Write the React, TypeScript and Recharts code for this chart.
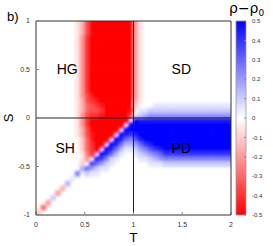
import React from 'react';
import { ComposedChart, Scatter, XAxis, YAxis, ReferenceLine, ReferenceArea } from 'recharts';

const W = 273;
const H = 246;
const PLOT = { left: 36, top: 21, right: 231, bottom: 215 };
const CB = { left: 236, right: 246 };
const FONT = "'Liberation Sans', Arial, sans-serif";

// column centres (T) and row centres (S) of the map
const tCenters = [0.025,0.075,0.125,0.175,0.225,0.275,0.325,0.375,0.425,0.475,0.525,0.575,0.625,0.675,0.725,0.775,0.825,0.875,0.925,0.975,1.025,1.075,1.125,1.175,1.225,1.275,1.325,1.375,1.425,1.475,1.525,1.575,1.625,1.675,1.725,1.775,1.825,1.875,1.925,1.975];
const sCenters = [0.975,0.925,0.875,0.825,0.775,0.725,0.675,0.625,0.575,0.525,0.475,0.425,0.375,0.325,0.275,0.225,0.175,0.125,0.075,0.025,-0.025,-0.075,-0.125,-0.175,-0.225,-0.275,-0.325,-0.375,-0.425,-0.475,-0.525,-0.575,-0.625,-0.675,-0.725,-0.775,-0.825,-0.875,-0.925,-0.975];

const xTicks = [0, 0.5, 1, 1.5, 2];
const yTicks = [-1, -0.5, 0, 0.5, 1];
const cbTicks = [-0.5, -0.4, -0.3, -0.2, -0.1, 0, 0.1, 0.2, 0.3, 0.4, 0.5];

const regionLabels = [
  { name: 'HG', t: 0.32, s: 0.51 },
  { name: 'SD', t: 1.49, s: 0.51 },
  { name: 'SH', t: 0.3, s: -0.31 },
  { name: 'PD', t: 1.49, s: -0.31 },
];

// rho - rho0 in units of 0.1, rows from S = 1 (top) to S = -1 (bottom)
const rhoTenths: number[][] = [
  [0,0,0,0,0,0,0,0,-0.5,-1.5, -3.5,-5,-5,-5,-5,-5,-5,-5,-5,-5, -2,-0.5,0,0,0,0,0,0,0,0, 0,0,0,0,0,0,0,0,0,0],
  [0,0,0,0,0,0,0,0,-0.5,-1.5, -3.5,-5,-5,-5,-5,-5,-5,-5,-5,-5, -2,-0.5,0,0,0,0,0,0,0,0, 0,0,0,0,0,0,0,0,0,0],
  [0,0,0,0,0,0,0,0,-0.5,-1.5, -3.5,-5,-5,-5,-5,-5,-5,-5,-5,-5, -2,-0.5,0,0,0,0,0,0,0,0, 0,0,0,0,0,0,0,0,0,0],
  [0,0,0,0,0,0,0,0,-0.5,-2, -4,-5,-5,-5,-5,-5,-5,-5,-5,-5, -2,-0.5,0,0,0,0,0,0,0,0, 0,0,0,0,0,0,0,0,0,0],
  [0,0,0,0,0,0,0,0,-0.5,-2, -4,-5,-5,-5,-5,-5,-5,-5,-5,-5, -2,-0.5,0,0,0,0,0,0,0,0, 0,0,0,0,0,0,0,0,0,0],
  [0,0,0,0,0,0,0,0,-0.5,-2, -4,-5,-5,-5,-5,-5,-5,-5,-5,-5, -2,-0.5,0,0,0,0,0,0,0,0, 0,0,0,0,0,0,0,0,0,0],
  [0,0,0,0,0,0,0,0,-0.5,-2, -4,-5,-5,-5,-5,-5,-5,-5,-5,-5, -2,-0.5,0,0,0,0,0,0,0,0, 0,0,0,0,0,0,0,0,0,0],
  [0,0,0,0,0,0,0,0,-0.5,-2, -4,-5,-5,-5,-5,-5,-5,-5,-5,-5, -2,-0.5,0,0,0,0,0,0,0,0, 0,0,0,0,0,0,0,0,0,0],
  [0,0,0,0,0,0,0,0,-0.5,-2, -4,-5,-5,-5,-5,-5,-5,-5,-5,-5, -2,-0.5,0,0,0,0,0,0,0,0, 0,0,0,0,0,0,0,0,0,0],
  [0,0,0,0,0,0,0,0,-0.5,-2, -4,-5,-5,-5,-5,-5,-5,-5,-5,-5, -2,-0.5,0,0,0,0,0,0,0,0, 0,0,0,0,0,0,0,0,0,0],
  [0,0,0,0,0,0,0,0,-0.5,-2, -4,-5,-5,-5,-5,-5,-5,-5,-5,-5, -2,-0.5,0,0,0,0,0,0,0,0, 0,0,0,0,0,0,0,0,0,0],
  [0,0,0,0,0,0,0,0,-0.5,-2, -4,-5,-5,-5,-5,-5,-5,-5,-5,-5, -2,-0.5,0,0,0,0,0,0,0,0, 0,0,0,0,0,0,0,0,0,0],
  [0,0,0,0,0,0,0,0,-0.5,-2, -4,-5,-5,-5,-5,-5,-5,-5,-5,-5, -2,-0.5,0,0,0,0,0,0,0,0, 0,0,0,0,0,0,0,0,0,0],
  [0,0,0,0,0,0,0,0,-0.5,-2, -4,-5,-5,-5,-5,-5,-5,-5,-5,-5, -2,-0.5,0,0,0,0,0,0,0,0, 0,0,0,0,0,0,0,0,0,0],
  [0,0,0,0,0,0,0,0,-0.5,-2, -4,-5,-5,-5,-5,-5,-5,-5,-5,-5, -2,-0.5,0,0,0,0,0,0,0,0, 0,0,0,0,0,0,0,0,0,0],
  [0,0,0,0,0,0,0,0,-0.5,-2, -3.5,-4.5,-5,-5,-5,-5,-5,-5,-5,-5, -2,-0.5,0,0,0,0,0,0,0,0, 0,0,0,0,0,0,0,0,0,0],
  [0,0,0,0,0,0,0,0,-0.5,-1.5, -3.5,-4,-4.5,-5,-5,-5,-5,-5,-5,-5, -1.5,-0.5,0,0,0,0,0,0,0,0, 0,0,0,0,0,0,0,0,0,0],
  [0,0,0,0,0,0,0,0,-0.5,-1.5, -3,-3.5,-4,-4.5,-5,-5,-5,-5,-5,-5, -1,0,0,0,0.5,0.5,0.5,0.5,0.5,0.5, 0.5,0.5,0.5,0.5,0.5,0.5,0.5,0.5,0.5,0.5],
  [0,0,0,0,0,0,0,0,-0.5,-1.5, -3,-3.5,-3.5,-4,-5,-5,-5,-5,-5,-4.5, 0,0.5,0.5,1,1,1,1,1,1,1, 1,1,1,1,1,1,1,1,1,1],
  [0,0,0,0,0,0,0,0,-0.5,-2, -3.5,-4,-4,-4.5,-5,-5,-5,-5,-5,-4, 0.5,1,1.5,2,2,2,2,2,2,2, 2,2,2,2,2,2,2,2,2,2],
  [0,0,0,0,0,0,0,0,-0.5,-2, -4,-5,-5,-5,-5,-5,-5,-5,-5,0, 5,4.5,4.5,4.5,4.5,4.5,4.5,4.5,4.5,4.5, 4.5,4.5,4.5,4.5,4.5,4.5,4.5,4.5,4.5,4.5],
  [0,0,0,0,0,0,0,0,-0.5,-2, -4,-5,-5,-5,-5,-5,-5,-5,0,5, 5,5,5,5,5,5,5,5,5,5, 5,5,5,5,5,5,5,5,5,5],
  [0,0,0,0,0,0,0,0,-0.5,-1.5, -3.5,-5,-5,-5,-5,-5,-5,0,5,5, 5,5,5,5,5,5,5,5,5,5, 5,5,5,5,5,5,5,5,5,5],
  [0,0,0,0,0,0,0,0,-0.5,-1.5, -3.5,-4.5,-5,-5,-5,-5,0,5,4.5,4, 4.5,5,5,5,5,5,5,5,5,5, 5,5,5,5,5,5,5,5,5,5],
  [0,0,0,0,0,0,0,0,0,-1, -3,-4.5,-5,-5,-5,0,5,4.5,3,2.5, 3.5,4.5,5,5,5,5,5,5,5,5, 5,5,5,5,5,5,5,5,5,5],
  [0,0,0,0,0,0,0,0,0,-1, -3,-4,-5,-5,0,5,4.5,3,1.5,1.5, 2,3,4,4.5,5,5,5,5,5,5, 5,5,5,5,5,5,5,5,5,5],
  [0,0,0,0,0,0,0,0,0,-1, -3,-4,-5,0,5,4.5,3,1.5,0.5,0.5, 1,2,2.5,3.5,4,4.5,5,5,5,5, 5,5,5,5,5,5,5,5,5,5],
  [0,0,0,0,0,0,0,0,0,-0.5, -2.5,-4,0,5,4.5,3,1.5,0.5,0,0, 0.5,1,1.5,2,2.5,3,4,4,4,4, 4,4,4,4,4,4,4,4,4,4],
  [0,0,0,0,0,0,0,0,0,-0.5, -2,0,4.5,4,2.5,1,0.5,0,0,0, 0,0.5,0.5,1,1.5,2,2.5,2.5,2.5,2.5, 2.5,2.5,2.5,2.5,2.5,2.5,2.5,2.5,2.5,2.5],
  [0,0,0,0,0,0,0,0,0,-1, 0,4,3,2,1,0.5,0,0,0,0, 0,0,0,0.5,0.5,0.5,1,1,1,1, 1,1,1,1,1,1,1,1,1,1],
  [0,0,0,0,0,0,0,0,0,1.5, 3,2,1,0.5,0.5,0,0,0,0,0, 0,0,0,0,0,0,0,0,0,0, 0,0,0,0,0,0,0,0,0,0],
  [0,0,0,0,0,0,0,0,2.5,0, 1,0.5,0.5,0,0,0,0,0,0,0, 0,0,0,0,0,0,0,0,0,0, 0,0,0,0,0,0,0,0,0,0],
  [0,0,0,0,0,0,0,0.5,0,0, 0,0,0,0,0,0,0,0,0,0, 0,0,0,0,0,0,0,0,0,0, 0,0,0,0,0,0,0,0,0,0],
  [0,0,0,0,0,0,1.5,0,0,0, 0,0,0,0,0,0,0,0,0,0, 0,0,0,0,0,0,0,0,0,0, 0,0,0,0,0,0,0,0,0,0],
  [0,0,0,0,0,-1.5,0,0,0,0, 0,0,0,0,0,0,0,0,0,0, 0,0,0,0,0,0,0,0,0,0, 0,0,0,0,0,0,0,0,0,0],
  [0,0,0,0,-2,0,0,0,0,0, 0,0,0,0,0,0,0,0,0,0, 0,0,0,0,0,0,0,0,0,0, 0,0,0,0,0,0,0,0,0,0],
  [0,0,0,1,0,0,0,0,0,0, 0,0,0,0,0,0,0,0,0,0, 0,0,0,0,0,0,0,0,0,0, 0,0,0,0,0,0,0,0,0,0],
  [0,0,-2,0,0,0,0,0,0,0, 0,0,0,0,0,0,0,0,0,0, 0,0,0,0,0,0,0,0,0,0, 0,0,0,0,0,0,0,0,0,0],
  [0,-3,0,0,0,0,0,0,0,0, 0,0,0,0,0,0,0,0,0,0, 0,0,0,0,0,0,0,0,0,0, 0,0,0,0,0,0,0,0,0,0],
  [-1,0,0,0,0,0,0,0,0,0, 0,0,0,0,0,0,0,0,0,0, 0,0,0,0,0,0,0,0,0,0, 0,0,0,0,0,0,0,0,0,0],
];

type Cell = { t: number; s: number; v: number; i: number; j: number };
const cells: Cell[] = [];
rhoTenths.forEach((row, j) =>
  row.forEach((v, i) => {
    if (v !== 0) cells.push({ t: tCenters[i], s: sCenters[j], v: v / 10, i, j });
  })
);

const cbMarks = cbTicks.map((v) => ({ x: 0.5, y: v }));

const nCols = tCenters.length;
const nRows = sCenters.length;
const cellW = (PLOT.right - PLOT.left) / nCols;
const cellH = (PLOT.bottom - PLOT.top) / nRows;

function colorFor(v: number) {
  const a = Math.min(1, Math.abs(v) / 0.5);
  const c = Math.round(255 * (1 - a));
  return v > 0 ? `rgb(${c},${c},255)` : `rgb(255,${c},${c})`;
}

function HeatCell(props: any) {
  const { cx, cy, payload } = props;
  if (cx == null || cy == null || !payload) return <g />;
  const pad = 5;
  const ov = 0.35;
  let x0 = cx - cellW / 2 - ov;
  let x1 = cx + cellW / 2 + ov;
  let y0 = cy - cellH / 2 - ov;
  let y1 = cy + cellH / 2 + ov;
  if (payload.i === 0) x0 -= pad;
  if (payload.i === nCols - 1) x1 += pad;
  if (payload.j === 0) y0 -= pad;
  if (payload.j === nRows - 1) y1 += pad;
  return <rect x={x0} y={y0} width={x1 - x0} height={y1 - y0} fill={colorFor(payload.v)} stroke="none" />;
}

function RegionText(props: any) {
  const { cx, cy, payload } = props;
  if (cx == null || cy == null || !payload) return <g />;
  return (
    <text x={cx} y={cy} fontSize={14} fontFamily={FONT} fill="#000" textAnchor="middle" dominantBaseline="central">
      {payload.name}
    </text>
  );
}

const Empty = () => <g />;
const fmt = (v: number) => String(Math.round(v * 10) / 10);

export default function App() {
  const tickStyle = { fontSize: 7, fill: '#333', fontFamily: FONT };
  return (
    <div className="heat" style={{ position: 'absolute', left: 0, top: 0, width: W, height: H, background: '#fff', fontFamily: FONT }}>
      <style>{`.heat .heat-layer .recharts-scatter{filter:url(#heatBlur);clip-path:url(#heatClip);}`}</style>
      <svg width={0} height={0} style={{ position: 'absolute' }}>
        <defs>
          <filter id="heatBlur" x="-10%" y="-10%" width="120%" height="120%">
            <feGaussianBlur stdDeviation="1.7" />
          </filter>
          <clipPath id="heatClip" clipPathUnits="userSpaceOnUse">
            <rect x={PLOT.left} y={PLOT.top} width={PLOT.right - PLOT.left} height={PLOT.bottom - PLOT.top} />
          </clipPath>
          <linearGradient id="cbGrad" x1="0" y1="0" x2="0" y2="1">
            <stop offset="0%" stopColor="#0000ff" />
            <stop offset="50%" stopColor="#ffffff" />
            <stop offset="100%" stopColor="#ff0000" />
          </linearGradient>
        </defs>
      </svg>

      {/* heat map layer */}
      <div className="heat-layer" style={{ position: 'absolute', left: 0, top: 0 }}>
        <ComposedChart width={W} height={H}
          margin={{ top: PLOT.top, right: W - PLOT.right, bottom: H - PLOT.bottom, left: PLOT.left }}>
          <XAxis xAxisId="b" type="number" dataKey="t" domain={[0, 2]} hide allowDataOverflow />
          <YAxis yAxisId="l" type="number" dataKey="s" domain={[-1, 1]} hide allowDataOverflow />
          <Scatter xAxisId="b" yAxisId="l" data={cells} dataKey="s" shape={HeatCell} isAnimationActive={false} />
        </ComposedChart>
      </div>

      {/* frame, axes, reference lines and region names */}
      <div style={{ position: 'absolute', left: 0, top: 0 }}>
        <ComposedChart width={W} height={H} margin={{ top: PLOT.top - 1, right: W - PLOT.right - 1, bottom: 0, left: 0 }}>
          <XAxis xAxisId="b" type="number" dataKey="t" domain={[0, 2]} ticks={xTicks} interval={0}
            height={H - PLOT.bottom} tickSize={-3} tickMargin={10} allowDataOverflow
            axisLine={{ stroke: '#333' }} tickLine={{ stroke: '#888' }} tick={tickStyle} />
          <XAxis xAxisId="top" orientation="top" type="number" domain={[0, 2]} ticks={xTicks} interval={0}
            height={1} tickSize={-3} tick={false} allowDataOverflow
            axisLine={{ stroke: '#333' }} tickLine={{ stroke: '#888' }} />
          <YAxis yAxisId="l" type="number" dataKey="s" domain={[-1, 1]} ticks={yTicks} interval={0}
            width={PLOT.left} tickSize={-3} tickMargin={9} allowDataOverflow
            axisLine={{ stroke: '#333' }} tickLine={{ stroke: '#888' }} tick={tickStyle} />
          <YAxis yAxisId="r" orientation="right" type="number" domain={[-1, 1]} ticks={yTicks} interval={0}
            width={1} tickSize={-3} tick={false} allowDataOverflow
            axisLine={{ stroke: '#333' }} tickLine={{ stroke: '#888' }} />
          <ReferenceLine xAxisId="b" yAxisId="l" x={1} stroke="#222" strokeWidth={1} />
          <ReferenceLine xAxisId="b" yAxisId="l" y={0} stroke="#222" strokeWidth={1} />
          <Scatter xAxisId="b" yAxisId="l" data={regionLabels} dataKey="s" shape={RegionText} isAnimationActive={false} />
        </ComposedChart>
      </div>

      {/* colour bar */}
      <div style={{ position: 'absolute', left: 0, top: 0 }}>
        <ComposedChart width={W} height={H}
          margin={{ top: PLOT.top, right: W - CB.right - 1, bottom: H - PLOT.bottom, left: CB.left - 1 }}>
          <XAxis xAxisId="cb" type="number" dataKey="x" domain={[0, 1]} hide allowDataOverflow />
          <YAxis yAxisId="cbl" type="number" dataKey="y" domain={[-0.5, 0.5]} ticks={cbTicks} interval={0}
            width={1} tickSize={-2} tick={false} allowDataOverflow
            axisLine={false} tickLine={{ stroke: '#888' }} />
          <YAxis yAxisId="cbr" orientation="right" type="number" domain={[-0.5, 0.5]} ticks={cbTicks} interval={0}
            width={1} tickSize={-2} tickMargin={8} allowDataOverflow tickFormatter={fmt}
            axisLine={false} tickLine={{ stroke: '#888' }}
            tick={{ fontSize: 6, fill: '#333', fontFamily: FONT, textAnchor: 'start' }} />
          <ReferenceArea xAxisId="cb" yAxisId="cbl" x1={0} x2={1} y1={-0.5} y2={0.5}
            fill="url(#cbGrad)" fillOpacity={1} stroke="#999" strokeWidth={0.8} />
          <Scatter xAxisId="cb" yAxisId="cbl" data={cbMarks} dataKey="y" shape={Empty} isAnimationActive={false} />
        </ComposedChart>
      </div>

      <svg width={W} height={H} style={{ position: 'absolute', left: 0, top: 0, pointerEvents: 'none' }}>
        <text x={7} y={21} fontSize={13} fontFamily={FONT} fill="#000">b)</text>
        <text x={8} y={118} fontSize={13} fontFamily={FONT} fill="#000" textAnchor="middle" dominantBaseline="central"
          transform="rotate(-90 8 118)">S</text>
        <text x={133.5} y={241.5} fontSize={13} fontFamily={FONT} fill="#000" textAnchor="middle">T</text>
        <text x={229} y={12.5} fontSize={14} fontFamily="'DejaVu Sans', sans-serif" fill="#000">
          ρ−ρ<tspan fontSize={9} dy={3.5}>0</tspan>
        </text>
      </svg>
    </div>
  );
}
